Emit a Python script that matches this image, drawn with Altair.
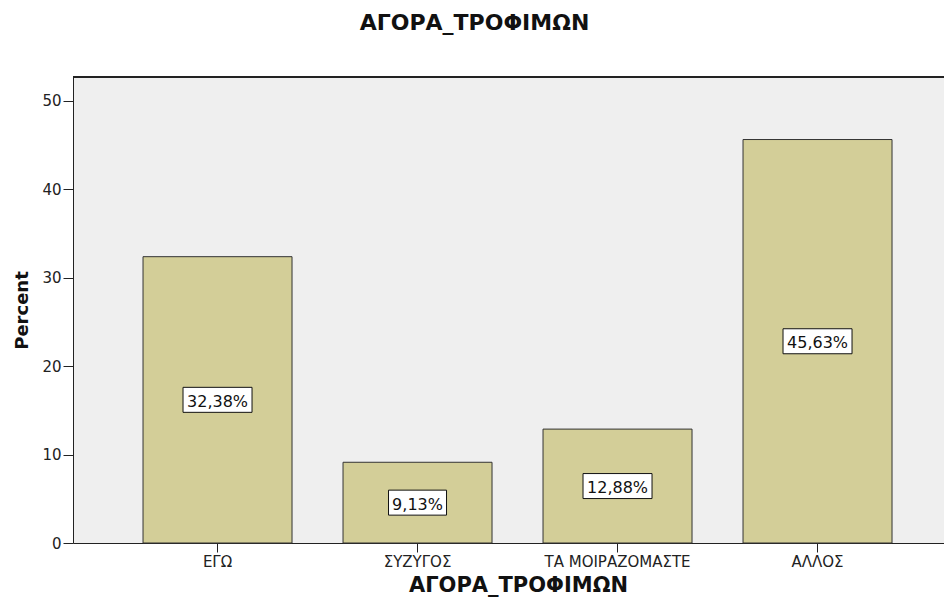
import altair as alt
import pandas as pd

categories = ["ΕΓΩ", "ΣΥΖΥΓΟΣ", "ΤΑ ΜΟΙΡΑΖΟΜΑΣΤΕ", "ΑΛΛΟΣ"]
percents = [32.38, 9.13, 12.88, 45.63]
labels = ["32,38%", "9,13%", "12,88%", "45,63%"]
y_ticks = [0, 10, 20, 30, 40, 50]

df = pd.DataFrame({"cat": categories, "pct": percents, "label": labels})

FONT = "DejaVu Sans"
PLOT_W = 871
PLOT_H = 466

x_enc = alt.X(
    "cat:N",
    sort=categories,
    scale=alt.Scale(paddingInner=0.255, paddingOuter=0.305, align=0.574),
    axis=alt.Axis(
        title="ΑΓΟΡΑ_ΤΡΟΦΙΜΩΝ",
        labelAngle=0,
        labelFont=FONT,
        labelFontSize=15,
        labelColor="#222",
        labelPadding=2,
        tickSize=9,
        tickColor="#222",
        domainColor="#222",
        titleFont=FONT,
        titleFontSize=21,
        titleFontWeight="bold",
        titleColor="#111",
        titleBaseline="alphabetic",
        titleX=445,
        titleY=48,
        titleAlign="center",
    ),
)

y_scale = alt.Scale(domain=[0, 52.7], nice=False, zero=True)

bars = alt.Chart(df).mark_bar(
    color="#D3CE98", stroke="#333333", strokeWidth=1
).encode(
    x=x_enc,
    y=alt.Y(
        "pct:Q",
        scale=y_scale,
        axis=alt.Axis(
            title="Percent",
            values=y_ticks,
            grid=False,
            labelFont=FONT,
            labelFontSize=15,
            labelColor="#222",
            labelPadding=2,
            tickSize=10,
            tickColor="#222",
            domainColor="#222",
            titleFont=FONT,
            titleFontSize=18,
            titleFontWeight="bold",
            titleColor="#111",
            titleAngle=270,
            titleBaseline="alphabetic",
            titleAlign="center",
            titleX=-46,
            titleY=233,
        ),
    ),
)

top_line = alt.Chart(df).mark_rule(color="#222", strokeWidth=1.5).encode(
    x=alt.value(0), x2=alt.value(PLOT_W), y=alt.value(0)
)

base = alt.Chart(df).transform_calculate(
    mid="datum.pct / 2",
    hw="(11 * length(datum.label) + 3) / 100",
    path="'M' + (-datum.hw) + ',-0.25L' + datum.hw + ',-0.25L' + datum.hw + ',0.25L' + (-datum.hw) + ',0.25Z'",
)

boxes = base.mark_point(
    filled=True, fill="white", stroke="#111", strokeWidth=1, opacity=1, size=10000
).encode(
    x=alt.X("cat:N", sort=categories),
    y=alt.Y("mid:Q", scale=y_scale),
    shape=alt.Shape("path:N", scale=None, legend=None),
)

texts = base.mark_text(
    font=FONT, fontSize=16, color="#111", baseline="middle", align="center", dy=2
).encode(
    x=alt.X("cat:N", sort=categories),
    y=alt.Y("mid:Q", scale=y_scale),
    text="label:N",
)

chart = (
    alt.layer(bars, top_line, boxes, texts)
    .properties(
        width=PLOT_W,
        height=PLOT_H,
        autosize=alt.AutoSizeParams(type="none"),
        padding={"left": 65, "top": 69, "right": 0, "bottom": 54},
        background="white",
        title=alt.TitleParams(
            "ΑΓΟΡΑ_ΤΡΟΦΙΜΩΝ",
            font=FONT,
            fontSize=22,
            fontWeight="bold",
            color="#111",
            anchor="middle",
            baseline="alphabetic",
            offset=24,
            dx=-34,
        ),
    )
    .configure_view(fill="#EFEFEF", stroke=None)
)

chart.save("out.html", embed_options={"renderer": "svg", "actions": False})
